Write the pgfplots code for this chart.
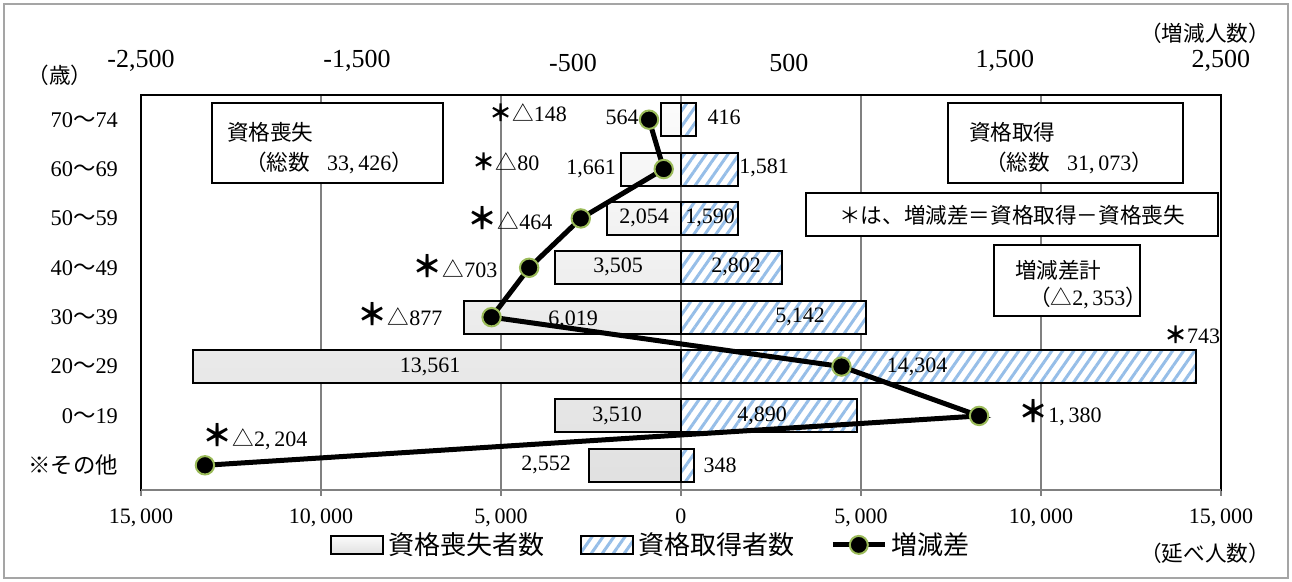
\documentclass[border=0pt]{standalone}
\usepackage{fontspec}
\setmainfont{Liberation Serif}
\newfontfamily\jp{Noto Sans CJK JP}
\usepackage{pgfplots}
\pgfplotsset{compat=1.18}
\usetikzlibrary{patterns.meta}

\definecolor{stripeblue}{RGB}{150,190,232}
\definecolor{markgreen}{RGB}{155,187,89}
\definecolor{gridgray}{RGB}{128,128,128}
\definecolor{framegray}{RGB}{165,165,165}

\newcommand\lbl{\fontsize{11}{13}\selectfont}
\newcommand\jpt{\jp\fontsize{10.8}{13}\selectfont}
\newcommand\bigast{{\jp\bfseries\fontsize{15}{15}\selectfont ＊}}
\newcommand\smast{{\jp\bfseries\fontsize{11.5}{13}\selectfont ＊}}

\pgfplotsset{
  boxlegend/.style={legend image code/.code={\draw[##1] (0pt,-4.5pt) rectangle (26pt,4.5pt);}},
  linelegend/.style={legend image code/.code={\draw[sharp plot, mark repeat=2, mark phase=2, ##1] plot coordinates {(0pt,0pt) (13pt,0pt) (26pt,0pt)};}},
}

\begin{document}
\begin{tikzpicture}
% page and outer frame
\path (0,0) rectangle (646pt,291pt);
\draw[framegray, line width=0.9pt] (2pt,2pt) rectangle (644pt,289pt);

% bars: loss to the left, gain to the right (persons)
\begin{axis}[
  at={(70.5pt,46pt)}, anchor=south west,
  scale only axis, width=540pt, height=197.5pt,
  xmin=-15000, xmax=15000, ymin=-0.5, ymax=7.5,
  bar width=0.67,
  axis line style={black, line width=0.9pt},
  ytick={0,...,7},
  yticklabels={{\jp ※その他},{0{\jp ～}19},{20{\jp ～}29},{30{\jp ～}39},{40{\jp ～}49},{50{\jp ～}59},{60{\jp ～}69},{70{\jp ～}74}},
  yticklabel style={font=\fontsize{11.2}{13}\selectfont, anchor=east, xshift=-5pt},
  ytick style={draw=none},
  scaled x ticks=false,
  xtick={-15000,-10000,-5000,0,5000,10000,15000},
  xticklabels={{15,\,000},{10,\,000},{5,\,000},0,{5,\,000},{10,\,000},{15,\,000}},
  xticklabel style={font=\fontsize{11}{13}\selectfont, yshift=-3pt},
  xtick pos=bottom, tick align=outside, major tick length=3pt,
  xtick style={gridgray, line width=0.75pt},
  xmajorgrids, grid style={gridgray, line width=0.75pt},
  legend style={at={(0.473,-0.139)}, anchor=center, draw=none, fill=none,
    legend columns=3, font=\jp\fontsize{13}{15}\selectfont,
    /tikz/every even column/.append style={column sep=16pt},
    /tikz/every odd column/.append style={column sep=0pt}},
  legend cell align=left,
]
\addplot[xbar, bar shift=0pt, draw=black, line width=1pt, top color=gray!3, bottom color=gray!24, boxlegend]
  coordinates {(-564,7) (-1661,6) (-2054,5) (-3505,4) (-6019,3) (-13561,2) (-3510,1) (-2552,0)};
\addlegendentry{資格喪失者数}
\addplot[xbar, bar shift=0pt, draw=black, line width=1pt, fill=white,
  postaction={pattern={Lines[angle=55,distance=4.5pt,line width=1.5pt]}, pattern color=stripeblue},
  boxlegend]
  coordinates {(416,7) (1581,6) (1590,5) (2802,4) (5142,3) (14304,2) (4890,1) (348,0)};
\addlegendentry{資格取得者数}
\addlegendimage{black, line width=2.5pt, mark=*, mark size=4.5pt,
  mark options={fill=black, draw=markgreen, line width=1pt}, linelegend}
\addlegendentry{増減差}
\end{axis}

% difference (gain minus loss), top scale
\begin{axis}[
  at={(70.5pt,46pt)}, anchor=south west,
  scale only axis, width=540pt, height=197.5pt,
  xmin=-2500, xmax=2500, ymin=-0.5, ymax=7.5,
  axis x line*=top, axis y line=none,
  axis line style={black, line width=0.9pt},
  scaled x ticks=false,
  xtick={-2500,-1500,-500,500,1500,2500},
  xticklabels={{-2,500},{-1,500},-500,500,{1,500},{2,500}},
  xticklabel style={font=\fontsize{13}{15}\selectfont, yshift=8pt},
  xtick style={draw=none},
]
\addplot[black, line width=2.5pt, mark=*, mark size=4.6pt,
  mark options={fill=black, draw=markgreen, line width=1pt}]
  coordinates {(-148,7) (-80,6) (-464,5) (-703,4) (-877,3) (743,2) (1380,1) (-2204,0)};
\end{axis}

% annotations, in a top-down coordinate frame
\begin{scope}[x=0.5pt, y=-0.5pt, yshift=291pt]
\draw[gridgray, line width=0.75pt] (141,490) -- (1221,490);

% unit captions
\node at (60,75) {\jpt （歳）};
\node at (1205,33) {\jpt （増減人数）};
\node at (1205,553) {\jpt （延べ人数）};

% boxes
\draw[black, line width=0.8pt, fill=white] (212,103) rectangle (443,183);
\node[anchor=west] at (220,132) {\jpt 資格喪失};
\node[anchor=west] at (238,163) {\jpt （総数\hspace{0.8em}{\rmfamily\lbl 33,\,426}）};
\draw[black, line width=0.8pt, fill=white] (948,103) rectangle (1183,183);
\node[anchor=west] at (962,132) {\jpt 資格取得};
\node[anchor=west] at (978,163) {\jpt （総数\hspace{0.8em}{\rmfamily\lbl 31,\,073}）};
\draw[black, line width=0.8pt, fill=white] (806,193) rectangle (1218,236);
\node at (1012,215) {\jpt ＊は、増減差＝資格取得－資格喪失};
\draw[black, line width=0.8pt, fill=white] (994,245) rectangle (1140,316);
\node[anchor=west] at (1008,270) {\jpt 増減差計};
\node[anchor=west] at (1022,298) {\jpt （△{\rmfamily\lbl 2,\,353}）};

% bar values
\node at (622,117) {\lbl 564};
\node at (724,117) {\lbl 416};
\node at (591,169) {\lbl 1,661};
\node at (764,168) {\lbl 1,581};
\node at (644,218) {\lbl 2,054};
\node at (710,218) {\lbl 1,590};
\node at (618,267) {\lbl 3,505};
\node at (736,267) {\lbl 2,802};
\node at (573,320) {\lbl 6,019};
\node at (800,317) {\lbl 5,142};
\node at (430,367) {\lbl 13,561};
\node at (917,367) {\lbl 14,304};
\node at (617,416) {\lbl 3,510};
\node at (762,416) {\lbl 4,890};
\node at (546,465) {\lbl 2,552};
\node at (720,465) {\lbl 348};

% difference values
\node at (528,113) {\smast{\jpt △}\lbl 148};
\node at (506,162) {\smast{\jpt △}\lbl 80};
\node at (510,218) {\bigast{\jpt △}\lbl 464};
\node at (455,266) {\bigast{\jpt △}\lbl 703};
\node at (400,314) {\bigast{\jpt △}\lbl 877};
\node at (1192,335) {\smast\lbl 743};
\node at (1060,413) {\bigast\lbl 1,\,380};
\node at (255,437) {\bigast{\jpt △}\lbl 2,\,204};
\end{scope}
\end{tikzpicture}
\end{document}
